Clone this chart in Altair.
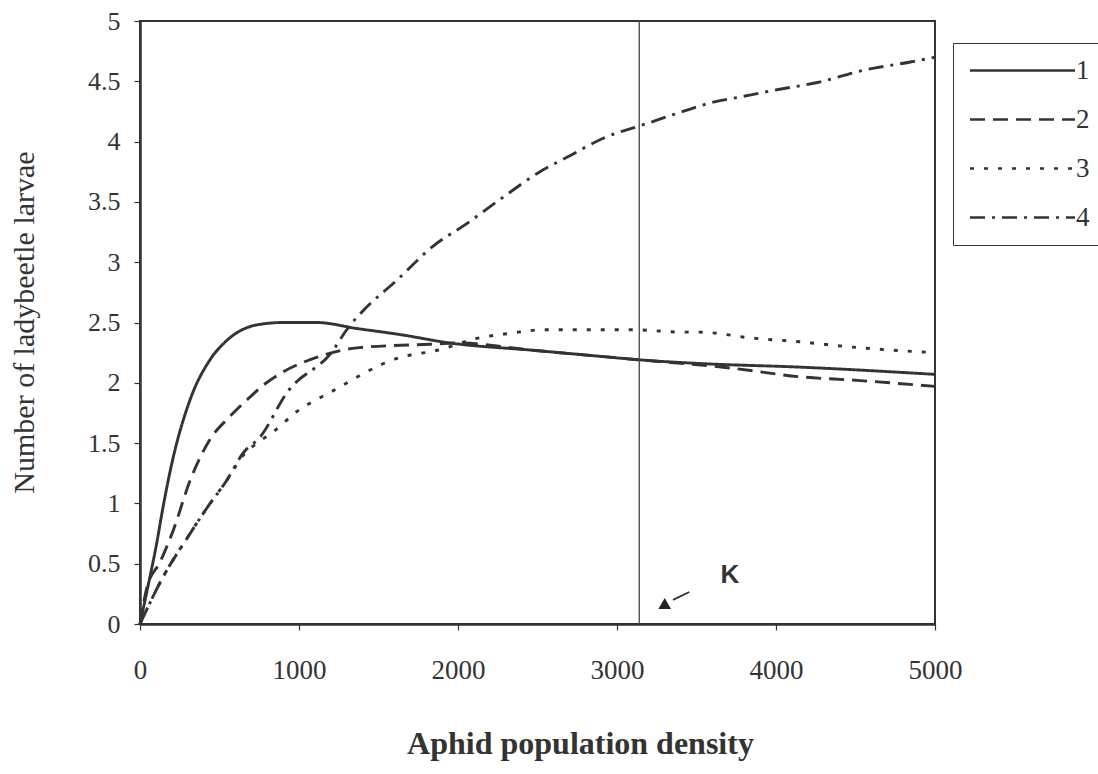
import altair as alt
import pandas as pd

# ---- data ----
series_names = ["1", "2", "3", "4"]

x1 = [0, 45, 105, 145, 200, 315, 440, 545, 735, 900, 1110, 1365, 1635, 1950, 2470, 2890, 3145, 3520, 4150, 5000]
y1 = [0, 0.28, 0.67, 0.97, 1.33, 1.86, 2.19, 2.35, 2.48, 2.50, 2.50, 2.45, 2.40, 2.33, 2.27, 2.22, 2.19, 2.16, 2.13, 2.07]

x2 = [0, 45, 125, 210, 315, 440, 565, 690, 775, 900, 1110, 1365, 1825, 2000, 2470, 2890, 3145, 3730, 4150, 4510, 5000]
y2 = [0, 0.31, 0.51, 0.78, 1.19, 1.53, 1.72, 1.88, 1.98, 2.09, 2.21, 2.29, 2.32, 2.33, 2.27, 2.22, 2.19, 2.12, 2.05, 2.02, 1.97]

x3 = [0, 145, 300, 420, 545, 650, 735, 835, 985, 1195, 1635, 1870, 2125, 2325, 2535, 2830, 3100, 3415, 3520, 3855, 4150, 4445, 4860, 5000]
y3 = [0, 0.39, 0.72, 0.96, 1.19, 1.40, 1.50, 1.59, 1.76, 1.92, 2.21, 2.27, 2.37, 2.41, 2.44, 2.44, 2.44, 2.42, 2.42, 2.37, 2.34, 2.30, 2.26, 2.25]

x4 = [0, 145, 300, 420, 545, 650, 755, 925, 1215, 1300, 1405, 1615, 1840, 2055, 2285, 2515, 2685, 2935, 3165, 3415, 3585, 3775, 4005, 4260, 4545, 4845, 5000]
y4 = [0, 0.39, 0.72, 0.96, 1.19, 1.42, 1.55, 1.92, 2.27, 2.44, 2.60, 2.85, 3.13, 3.32, 3.54, 3.75, 3.87, 4.04, 4.14, 4.25, 4.32, 4.37, 4.43, 4.49, 4.59, 4.66, 4.70]

x_ticks = [0, 1000, 2000, 3000, 4000, 5000]
y_ticks = [0, 0.5, 1, 1.5, 2, 2.5, 3, 3.5, 4, 4.5, 5]

k_x = [3140]
k_label_x = [3710]
k_label_y = [0.41]
marker_x = [3300]
marker_y = [0.17]
arrow_x = [3352]
arrow_y = [0.20]
arrow_x2 = [3455]
arrow_y2 = [0.265]

dash_patterns = [[1, 0], [15, 8], [4, 10], [15, 7, 3, 7]]

# ---- tables ----
rows = []
for name, xs, ys in zip(series_names, [x1, x2, x3, x4], [y1, y2, y3, y4]):
    for xv, yv in zip(xs, ys):
        rows.append({"density": xv, "larvae": yv, "series": name})
df = pd.DataFrame(rows)

INK = "#333333"
SERIF = "Liberation Serif"

x_scale = alt.Scale(domain=[0, 5000], nice=False, zero=False)
y_scale = alt.Scale(domain=[0, 5], nice=False, zero=False)

x_axis = alt.Axis(values=x_ticks, format="d", title="Aphid population density",
                  titleFont=SERIF, titleFontSize=32, titleFontWeight="bold", titleColor=INK,
                  titleX=440, titleY=129, titleBaseline="alphabetic", titleAlign="center",
                  labelFont=SERIF, labelFontSize=27, labelColor=INK, labelPadding=27,
                  tickSize=6, grid=False, labelFlush=False)
y_axis = alt.Axis(values=y_ticks, format="~g", title="Number of ladybeetle larvae",
                  titleFont=SERIF, titleFontSize=30, titleFontWeight="normal", titleColor=INK,
                  titleAngle=-90, titleX=-107, titleY=301, titleBaseline="alphabetic", titleAlign="center",
                  labelFont=SERIF, labelFontSize=26, labelColor=INK, labelPadding=14,
                  tickSize=6, grid=False, labelFlush=False)

def xenc(field="density"):
    return alt.X(f"{field}:Q", scale=x_scale, axis=x_axis)

def yenc(field="larvae"):
    return alt.Y(f"{field}:Q", scale=y_scale, axis=y_axis)

lines = alt.Chart(df).mark_line(color=INK, strokeWidth=2.9, interpolate="monotone").encode(
    x=xenc(),
    y=yenc(),
    strokeDash=alt.StrokeDash(
        "series:N",
        scale=alt.Scale(domain=series_names, range=dash_patterns),
        legend=alt.Legend(
            title=None, orient="none", legendX=813, legendY=22,
            symbolType="M-1,0H9", symbolSize=441, symbolStrokeWidth=2.6,
            symbolStrokeColor=INK, labelFont=SERIF, labelFontSize=27, labelColor=INK,
            labelOffset=82, padding=14, rowPadding=21, strokeColor=INK, fillColor="white",
        ),
    ),
)

k_rule = alt.Chart(pd.DataFrame({"density": k_x})).mark_rule(color="#444444", strokeWidth=1.3).encode(
    x=xenc()
)

k_text = alt.Chart(pd.DataFrame({"density": k_label_x, "larvae": k_label_y})).mark_text(
    text="K", font="Liberation Sans", fontWeight="bold", fontSize=26, color=INK
).encode(x=xenc(), y=yenc())

marker = alt.Chart(pd.DataFrame({"density": marker_x, "larvae": marker_y})).mark_point(
    shape="triangle-up", filled=True, size=160, color="#222222", opacity=1
).encode(x=xenc(), y=yenc())

arrow = alt.Chart(pd.DataFrame({"density": arrow_x, "larvae": arrow_y,
                                "density2": arrow_x2, "larvae2": arrow_y2})).mark_rule(
    color=INK, strokeWidth=1.8
).encode(x=xenc(), y=yenc(), x2="density2:Q", y2="larvae2:Q")

chart = alt.layer(lines, k_rule, k_text, marker, arrow).properties(
    width=795, height=603,
    padding={"left": 140, "top": 21, "right": 163, "bottom": 150},
    autosize=alt.AutoSizeParams(type="none"),
    background="white",
).configure_view(
    stroke=INK, strokeWidth=2
).configure_axis(
    domainColor=INK, domainWidth=2.5, tickColor=INK, tickWidth=1.2
)

chart.save("out.html", embed_options={"renderer": "svg", "actions": False})
